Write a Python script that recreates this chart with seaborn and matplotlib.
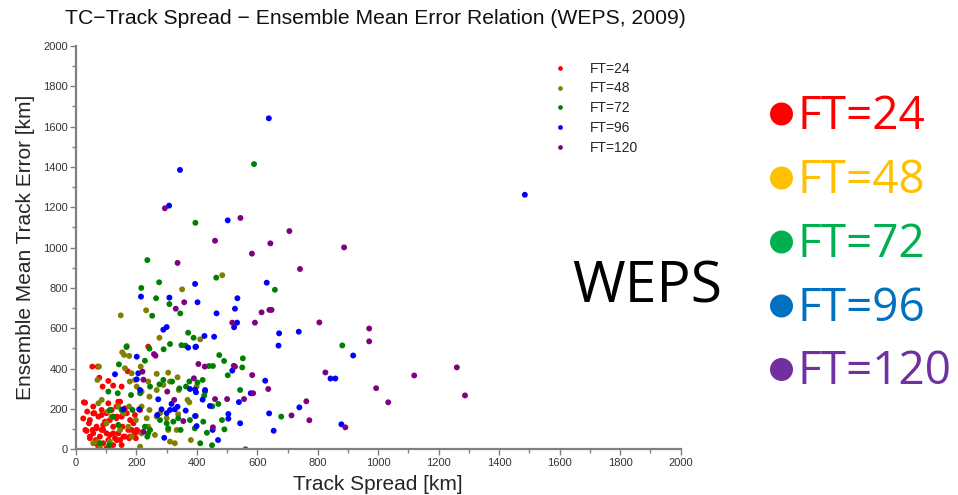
import matplotlib
matplotlib.use("Agg")
import matplotlib.pyplot as plt
from matplotlib.patches import Ellipse
from matplotlib.ticker import MultipleLocator
import seaborn as sns
import pandas as pd

# ---------------- data ----------------
ft_labels = ["FT=24", "FT=48", "FT=72", "FT=96", "FT=120"]
ft_colors = ["red", "olive", "green", "blue", "purple"]

ft24_spread = [54, 72, 239, 77, 107, 123, 151, 171, 88, 26, 37, 61, 85, 107, 118, 134, 146, 168, 179, 184,
               46, 35, 57, 68, 79, 90, 101, 112, 123, 140, 154, 162, 66, 77, 90, 107, 123, 195, 206, 74,
               96, 151, 162, 57, 46, 134, 173, 190, 101, 55, 85, 112, 129, 146, 176, 198, 151, 101, 31, 43,
               30, 24, 68, 90, 135, 157, 146, 201, 123, 46, 57, 85, 63, 74, 112, 135, 157, 179, 195, 212, 140]
ft24_error = [410, 410, 509, 355, 339, 316, 311, 387, 311, 233, 187, 179, 170, 228, 195, 212, 236, 179, 145, 96,
              145, 91, 79, 112, 63, 96, 79, 145, 112, 79, 112, 63, 46, 13, 30, 46, 21, 79, 88, 162,
              137, 162, 203, 212, 55, 154, 96, 129, 179, 96, 96, 71, 55, 46, 55, 55, 21, 5, 96, 129,
              231, 153, 104, 120, 162, 178, 112, 96, 79, 63, 178, 195, 30, 13, 21, 46, 63, 63, 170, 195, 236]

ft48_spread = [148, 232, 276, 351, 484, 411, 168, 153, 159, 176, 76, 71, 214, 162, 184, 178, 195, 239, 267, 305,
               336, 201, 217, 243, 267, 289, 311, 340, 369, 375, 399, 338, 397, 278, 243, 217, 176, 157, 118, 74,
               105, 140, 146, 173, 217, 239, 261, 305, 333, 380, 311, 327, 212, 79, 112, 198, 267, 234, 101, 72,
               57, 184, 300, 85]
ft48_error = [664, 689, 553, 793, 863, 545, 512, 481, 468, 463, 410, 344, 410, 402, 377, 336, 344, 336, 374, 380,
              357, 311, 286, 261, 294, 319, 336, 294, 245, 233, 311, 174, 165, 179, 195, 212, 212, 179, 162, 228,
              187, 212, 96, 112, 79, 112, 71, 96, 96, 46, 38, 30, 13, 13, 38, 145, 162, 154, 129, 38,
              30, 63, 154, 245]

ft72_spread = [589, 395, 275, 464, 658, 265, 309, 236, 216, 252, 345, 311, 371, 389, 349, 362, 243, 167, 228, 290,
               474, 490, 552, 550, 502, 440, 453, 543, 679, 561, 491, 450, 471, 483, 421, 433, 881, 142, 107, 138,
               182, 212, 245, 276, 289, 318, 342, 364, 375, 419, 427, 402, 112, 123, 151, 187, 140, 239, 245, 236,
               278, 300, 322, 338, 346, 377, 393, 110, 79, 305, 228, 424, 451, 411]
ft72_error = [1414, 1123, 828, 851, 791, 749, 720, 938, 800, 662, 674, 522, 578, 553, 516, 514, 499, 507, 439, 496,
              467, 438, 451, 406, 367, 413, 413, 294, 162, 0, 99, 20, 225, 145, 137, 82, 515, 421, 286, 278,
              269, 278, 311, 322, 344, 336, 302, 311, 336, 344, 286, 331, 195, 162, 195, 195, 121, 79, 96, 63,
              145, 129, 137, 154, 96, 145, 104, 21, 30, 104, 112, 266, 213, 30]

ft96_spread = [638, 344, 308, 502, 394, 631, 309, 402, 534, 526, 215, 289, 300, 465, 533, 523, 672, 670, 737, 425,
               457, 371, 395, 201, 517, 626, 578, 739, 639, 654, 543, 470, 504, 504, 539, 443, 452, 842, 858, 917,
               878, 1485, 129, 157, 209, 206, 212, 272, 283, 300, 269, 316, 327, 363, 377, 397, 419, 397, 201, 292,
               311, 336, 394, 394, 427, 399]
ft96_error = [1641, 1385, 1208, 1135, 820, 826, 752, 729, 749, 697, 757, 593, 606, 674, 628, 605, 575, 514, 583, 562,
              558, 504, 507, 459, 390, 340, 278, 208, 178, 92, 129, 46, 175, 152, 234, 215, 96, 351, 351, 465,
              124, 1262, 372, 198, 198, 377, 294, 248, 198, 179, 170, 225, 198, 192, 299, 283, 246, 509, 347, 57,
              195, 211, 296, 165, 294, 115]

ft120_spread = [294, 544, 706, 460, 643, 582, 887, 336, 741, 358, 330, 640, 647, 614, 517, 592, 805, 970, 970, 825,
                1119, 1260, 993, 1287, 1033, 762, 713, 772, 891, 405, 426, 522, 526, 583, 636, 586, 460, 500, 556,
                453, 258, 263, 220, 223, 302, 325, 355, 223, 390]
ft120_error = [1195, 1147, 1082, 1034, 1021, 970, 1001, 924, 894, 729, 697, 691, 691, 679, 628, 628, 629, 599, 535, 381,
               366, 406, 303, 267, 233, 238, 168, 144, 109, 423, 410, 414, 410, 368, 299, 278, 249, 249, 249,
               109, 472, 464, 385, 345, 286, 245, 140, 87, 352]

x_ticks = [0, 200, 400, 600, 800, 1000, 1200, 1400, 1600, 1800, 2000]
y_ticks = [0, 200, 400, 600, 800, 1000, 1200, 1400, 1600, 1800, 2000]

side_colors = ["#ff0000", "#ffc000", "#00b050", "#0070c0", "#7030a0"]

# ---------------- build table ----------------
frames = []
for lab, xs, ys in zip(ft_labels,
                       [ft24_spread, ft48_spread, ft72_spread, ft96_spread, ft120_spread],
                       [ft24_error, ft48_error, ft72_error, ft96_error, ft120_error]):
    frames.append(pd.DataFrame({"spread": xs, "error": ys, "FT": lab}))
df = pd.concat(frames, ignore_index=True)

# ---------------- style ----------------
sns.set_style("ticks")
plt.rcParams['font.family'] = ['Liberation Sans', 'DejaVu Sans']

W, H = 958, 495
fig = plt.figure(figsize=(W / 100, H / 100), dpi=100)
ax = fig.add_axes([76 / W, 1 - 449.3 / H, (680.5 - 76) / W, (449.3 - 45.9) / H])

sns.scatterplot(data=df, x="spread", y="error", hue="FT", hue_order=ft_labels,
                palette=dict(zip(ft_labels, ft_colors)), s=18, linewidth=0, ax=ax)

ax.set_xlim(0, 2000)
ax.set_ylim(0, 2000)
ax.set_xticks(x_ticks)
ax.set_yticks(y_ticks)
ax.xaxis.set_minor_locator(MultipleLocator(100))
ax.yaxis.set_minor_locator(MultipleLocator(100))
ax.tick_params(axis="both", which="major", direction="out", length=4, width=1,
               color="#808080", labelsize=8, labelcolor="#333333", pad=2)
ax.tick_params(axis="both", which="minor", direction="out", length=3, width=1, color="#808080")
for side in ["top", "right"]:
    ax.spines[side].set_visible(False)
for side in ["left", "bottom"]:
    ax.spines[side].set_color("#808080")
    ax.spines[side].set_linewidth(1.6)

ax.set_xlabel("Track Spread [km]", fontsize=15, labelpad=5)
ax.set_ylabel("Ensemble Mean Track Error [km]", fontsize=15, labelpad=6)

leg = ax.legend(loc="upper left", bbox_to_anchor=(0.768, 0.975), frameon=False,
                fontsize=10, markerscale=0.8, handlelength=2.0, handletextpad=1.2,
                labelspacing=0.42, borderaxespad=0)

fig.text(65 / W, 1 - 18 / H, "TC\u2212Track Spread \u2212 Ensemble Mean Error Relation (WEPS, 2009)",
         fontsize=15.2, ha="left", va="center", color="#111111")

# ---------------- right-hand annotation ----------------
fig.text(572 / W, 1 - 288 / H, "WEPS", fontsize=41, family=["Open Sans", "DejaVu Sans"],
         ha="left", va="center", color="black")

row_y = [117, 181, 245, 309, 372.5]
for lab, col, yy in zip(ft_labels, side_colors, row_y):
    fig.text(798 / W, 1 - yy / H, lab, fontsize=33, family=["Open Sans", "DejaVu Sans"],
             ha="left", va="center", color=col)
    fig.add_artist(Ellipse((781.5 / W, 1 - (yy - 3) / H), 23 / W, 23 / H,
                           transform=fig.transFigure, color=col, lw=0))

fig.savefig("out.png", dpi=100)
